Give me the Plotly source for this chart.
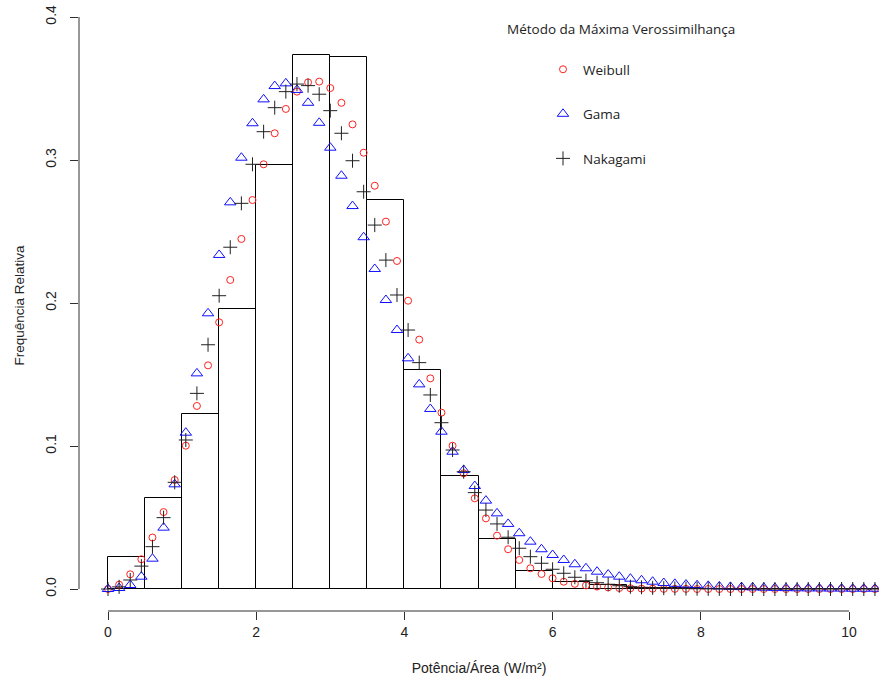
import plotly.graph_objects as go

# ---- data ----
x_grid = [0.0, 0.15, 0.3, 0.45, 0.6, 0.75, 0.9, 1.05, 1.2, 1.35,
          1.5, 1.65, 1.8, 1.95, 2.1, 2.25, 2.4, 2.55, 2.7, 2.85,
          3.0, 3.15, 3.3, 3.45, 3.6, 3.75, 3.9, 4.05, 4.2, 4.35,
          4.5, 4.65, 4.8, 4.95, 5.1, 5.25, 5.4, 5.55, 5.7, 5.85,
          6.0, 6.15, 6.3, 6.45, 6.6, 6.75, 6.9, 7.05, 7.2, 7.35,
          7.5, 7.65, 7.8, 7.95, 8.1, 8.25, 8.4, 8.55, 8.7, 8.85,
          9.0, 9.15, 9.3, 9.45, 9.6, 9.75, 9.9, 10.05, 10.2, 10.35]

weibull = [0.0, 0.003, 0.0103, 0.0208, 0.036, 0.0538, 0.0762, 0.1002, 0.128, 0.1564,
           0.1865, 0.2161, 0.2448, 0.272, 0.297, 0.3187, 0.3357, 0.3478, 0.3543, 0.3548,
           0.3503, 0.340, 0.3249, 0.3051, 0.282, 0.2569, 0.2294, 0.2016, 0.1744, 0.1473,
           0.1233, 0.1002, 0.0809, 0.0634, 0.0494, 0.0373, 0.0278, 0.0203, 0.0145, 0.0105,
           0.0075, 0.0051, 0.0036, 0.0025, 0.0017, 0.0011, 0.0007, 0.0005, 0.0003, 0.0002,
           0.0001, 0.0001, 0.0001, 0.0, 0.0, 0.0, 0.0, 0.0, 0.0, 0.0,
           0.0, 0.0, 0.0, 0.0, 0.0, 0.0, 0.0, 0.0, 0.0, 0.0]

gama = [0.0, 0.0007, 0.0028, 0.0086, 0.0212, 0.0429, 0.0732, 0.1093, 0.1508, 0.1928,
        0.2336, 0.2704, 0.3016, 0.3257, 0.3424, 0.3517, 0.3536, 0.349, 0.340, 0.326,
        0.3086, 0.289, 0.2678, 0.246, 0.2238, 0.2021, 0.1811, 0.1613, 0.1431, 0.1259,
        0.110, 0.096, 0.0832, 0.072, 0.0618, 0.0529, 0.0455, 0.039, 0.0331, 0.0278,
        0.0238, 0.0203, 0.0173, 0.0145, 0.0121, 0.0101, 0.0086, 0.0072, 0.0061, 0.0051,
        0.0042, 0.0036, 0.0031, 0.0026, 0.0022, 0.0018, 0.0015, 0.0013, 0.0011, 0.0009,
        0.0008, 0.0006, 0.0005, 0.0004, 0.0004, 0.0003, 0.0003, 0.0002, 0.0002, 0.0002]

nakagami = [0.0, 0.0015, 0.0063, 0.016, 0.0296, 0.0499, 0.0746, 0.1042, 0.1368, 0.1708,
            0.2051, 0.239, 0.2697, 0.297, 0.3198, 0.3366, 0.3478, 0.3531, 0.352, 0.346,
            0.3345, 0.3187, 0.2995, 0.2778, 0.2545, 0.230, 0.2056, 0.1811, 0.1583, 0.1357,
            0.1163, 0.0972, 0.082, 0.0674, 0.0552, 0.0455, 0.0362, 0.0285, 0.0226, 0.018,
            0.0138, 0.011, 0.0082, 0.0058, 0.0044, 0.0033, 0.0023, 0.0016, 0.0012, 0.0008,
            0.0006, 0.0004, 0.0003, 0.0002, 0.0001, 0.0001, 0.0, 0.0, 0.0, 0.0,
            0.0, 0.0, 0.0, 0.0, 0.0, 0.0, 0.0, 0.0, 0.0, 0.0]

bin_edges = [0.0, 0.5, 1.0, 1.5, 2.0, 2.5, 3.0, 3.5, 4.0, 4.5, 5.0,
             5.5, 6.0, 6.5, 7.0, 7.5, 8.0, 8.5, 9.0, 9.5, 10.0, 10.5]
hist_freq = [0.0222, 0.0634, 0.1222, 0.1956, 0.2965, 0.3734, 0.3723, 0.272, 0.1531, 0.079,
             0.035, 0.0128, 0.0047, 0.0025, 0.001, 0.0005, 0.0003, 0.0002, 0.0002, 0.0001, 0.0001]

x_ticks = [0, 2, 4, 6, 8, 10]
y_ticks = [0.0, 0.1, 0.2, 0.3, 0.4]
y_ticklabels = ["0.0", "0.1", "0.2", "0.3", "0.4"]

# ---- figure ----
bin_centers = [(a + b) / 2 for a, b in zip(bin_edges[:-1], bin_edges[1:])]
bin_widths = [b - a for a, b in zip(bin_edges[:-1], bin_edges[1:])]

AX_FONT = "Liberation Sans, Arial, sans-serif"
LEG_FONT = "Open Sans, Noto Sans, sans-serif"

fig = go.Figure()
fig.add_trace(go.Bar(
    x=bin_centers, y=hist_freq, width=bin_widths,
    marker=dict(color="white", line=dict(color="black", width=1)),
    showlegend=False, hoverinfo="skip"))

fig.add_trace(go.Scatter(
    x=x_grid, y=weibull, mode="markers", name="Weibull", legendgroup="w",
    marker=dict(symbol="circle-open", size=7, color="#FF2020", line=dict(width=1))))
fig.add_trace(go.Scatter(
    x=x_grid, y=gama, mode="markers", name="Gama", legendgroup="g",
    marker=dict(symbol="triangle-up-open", size=10, color="#1010FF", line=dict(width=1))))
fig.add_trace(go.Scatter(
    x=x_grid, y=nakagami, mode="markers", name="Nakagami", legendgroup="n",
    marker=dict(symbol="cross-thin-open", size=10, color="#202020", line=dict(width=1))))

# axis lines limited to tick range (R style)
fig.add_shape(type="line", xref="x", yref="paper", x0=0, x1=10, y0=0, y1=0,
              line=dict(color="#303030", width=1))
fig.add_shape(type="line", xref="paper", yref="y", x0=0, x1=0, y0=0, y1=0.4,
              line=dict(color="#303030", width=1))

fig.add_annotation(text="Método da Máxima Verossimilhança", xref="paper", yref="paper",
                   x=(621 - 79) / 800, y=(611 - 29) / 611, xanchor="center", yanchor="middle",
                   showarrow=False, font=dict(family=LEG_FONT, size=13.5, color="#222222"))

fig.update_layout(
    width=879, height=685,
    margin=dict(l=79, r=0, t=0, b=74),
    plot_bgcolor="white", paper_bgcolor="white",
    bargap=0,
    showlegend=True,
    legend=dict(x=(543 - 79) / 800, y=(611 - 54) / 611, xanchor="left", yanchor="top",
                bgcolor="rgba(0,0,0,0)", tracegroupgap=24,
                font=dict(family=LEG_FONT, size=13.5, color="#222222")),
    xaxis=dict(range=[(79 - 108) / 74.1, (879 - 108) / 74.1], showgrid=False, zeroline=False,
               showline=False, tickmode="array", tickvals=x_ticks, ticks="outside", ticklen=8,
               tickcolor="#303030", tickfont=dict(family=AX_FONT, size=14, color="#222222"),
               title=dict(text="Potência/Área (W/m²)", standoff=24,
                          font=dict(family=AX_FONT, size=14, color="#222222"))),
    yaxis=dict(range=[(589 - 611) / 1430, 589 / 1430], showgrid=False, zeroline=False,
               showline=False, tickmode="array", tickvals=y_ticks, ticktext=y_ticklabels,
               ticks="outside", ticklen=8, tickcolor="#303030", tickangle=-90,
               ticklabelstandoff=8,
               tickfont=dict(family=AX_FONT, size=14, color="#222222"),
               title=dict(text="Frequência Relativa", standoff=15,
                          font=dict(family=AX_FONT, size=13.5, color="#222222"))),
)

fig.write_html("out.html")
